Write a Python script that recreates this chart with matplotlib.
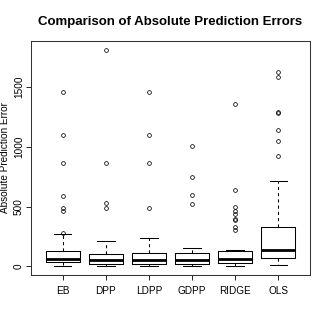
import matplotlib
matplotlib.use("Agg")
import matplotlib.pyplot as plt
from matplotlib import font_manager

fams = {f.name for f in font_manager.fontManager.ttflist}
narrow = "Liberation Sans Narrow" if "Liberation Sans Narrow" in fams else "Liberation Sans"
plt.rcParams['font.family'] = [narrow, 'DejaVu Sans']

categories = ["EB", "DPP", "LDPP", "GDPP", "RIDGE", "OLS"]
whislo = [3, 2, 2, 2, 0, 14]
q1 = [35, 22, 22, 20, 25, 68]
med = [63, 56, 57, 57, 63, 138]
q3 = [128, 103, 114, 111, 125, 328]
whishi = [270, 210, 236, 153, 139, 714]
fliers = [
    [283, 460, 487, 592, 860, 1100, 1455],
    [487, 533, 860, 1811],
    [487, 860, 1100, 1455],
    [522, 600, 750, 1006],
    [306, 333, 385, 395, 436, 464, 492, 636, 1360],
    [922, 1047, 1139, 1280, 1290, 1583, 1628],
]
yticks = [0, 500, 1000, 1500]

W, H = 327, 327
fig = plt.figure(figsize=(W / 100, H / 100), dpi=100)
L, R, T, B = 31, 310, 41, 275
ax = fig.add_axes([L / W, 1 - B / H, (R - L) / W, (B - T) / H])

stats = []
for i, c in enumerate(categories):
    stats.append(dict(label=c, med=med[i], q1=q1[i], q3=q3[i],
                      whislo=whislo[i], whishi=whishi[i], fliers=fliers[i]))

lw = 0.75
ax.bxp(stats, positions=range(1, 7), widths=0.8, showfliers=True,
       boxprops=dict(color="black", linewidth=lw),
       medianprops=dict(color="black", linewidth=2.0, solid_capstyle="butt"),
       whiskerprops=dict(color="black", linewidth=lw, linestyle=(0, (3, 3))),
       capprops=dict(color="black", linewidth=lw),
       capwidths=0.4,
       flierprops=dict(marker="o", markersize=2.7, markerfacecolor="none",
                       markeredgecolor="black", markeredgewidth=0.55))

ax.set_xlim(0.26, 6.74)
ax.set_ylim(-72, 1883)
ax.set_yticks(yticks)
ax.set_yticklabels([str(v) for v in yticks], rotation=90, va="center")
ax.set_xticks(range(1, 7))
ax.set_xticklabels(categories)
ax.tick_params(axis="both", labelsize=7.2, length=3.5, width=0.6, color="black")
ax.tick_params(axis="y", pad=1.5)
ax.tick_params(axis="x", pad=4.5)
for s in ax.spines.values():
    s.set_linewidth(0.75)
    s.set_color("#333333")

fig.text(5 / W, 1 - 158 / H, "Absolute Prediction Error", rotation=90,
         ha="center", va="center", fontsize=7.2)
fig.text(0.5 * (L + R) / W, 1 - 21.5 / H, "Comparison of Absolute Prediction Errors",
         ha="center", va="center", fontsize=9.5, fontweight="bold")

fig.savefig("out.png", dpi=100)
